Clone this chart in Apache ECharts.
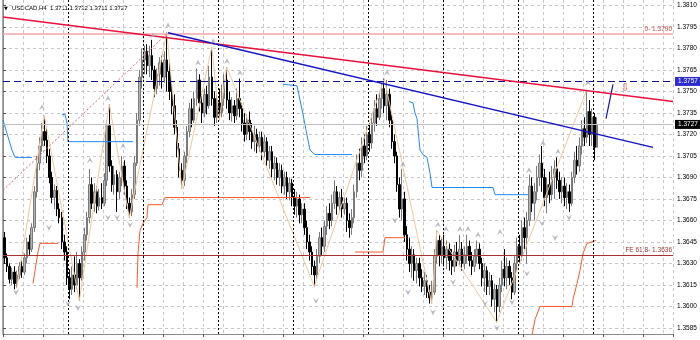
<!DOCTYPE html>
<html><head><meta charset="utf-8">
<script src="https://cdn.jsdelivr.net/npm/echarts@6/dist/echarts.min.js"></script>
<style>html,body{margin:0;padding:0;background:#fff}#c{width:700px;height:340px}</style>
</head><body><div id="c"></div>
<script>
// ---- data ----
const symbolName = 'USDCAD,H4';
const lastOHLC = ['1.3711', '1.3732', '1.3711', '1.3727'];
const slotCount = 268;
const categories = Array.from({length: slotCount}, (_, i) => String(i));
// [open, close, low, high]
const candles = [
[1.3648,1.3634,1.3630,1.3652],[1.3634,1.3628,1.3624,1.3637],[1.3628,1.3619,1.3616,1.3630],[1.3619,1.3624,1.3615,1.3627],
[1.3624,1.3616,1.3612,1.3628],[1.3616,1.3622,1.3613,1.3625],[1.3622,1.3628,1.3619,1.3631],[1.3628,1.3624,1.3620,1.3632],
[1.3624,1.3634,1.3622,1.3637],[1.3634,1.3645,1.3630,1.3648],[1.3645,1.3640,1.3636,1.3650],[1.3640,1.3655,1.3638,1.3658],
[1.3655,1.3680,1.3652,1.3684],[1.3680,1.3700,1.3676,1.3705],[1.3700,1.3712,1.3695,1.3718],[1.3712,1.3722,1.3708,1.3728],
[1.3722,1.3716,1.3712,1.3733],[1.3716,1.3705,1.3700,1.3724],[1.3705,1.3690,1.3686,1.3710],[1.3690,1.3676,1.3672,1.3694],
[1.3676,1.3681,1.3668,1.3685],[1.3681,1.3668,1.3663,1.3684],[1.3668,1.3662,1.3658,1.3672],[1.3662,1.3645,1.3640,1.3666],
[1.3645,1.3638,1.3632,1.3650],[1.3638,1.3620,1.3615,1.3642],[1.3620,1.3612,1.3605,1.3626],[1.3612,1.3622,1.3608,1.3628],
[1.3622,1.3615,1.3610,1.3635],[1.3615,1.3630,1.3612,1.3638],[1.3630,1.3620,1.3604,1.3633],[1.3620,1.3638,1.3618,1.3642],
[1.3638,1.3650,1.3632,1.3655],[1.3650,1.3662,1.3646,1.3666],[1.3662,1.3685,1.3658,1.3696],[1.3685,1.3672,1.3668,1.3690],
[1.3672,1.3680,1.3666,1.3686],[1.3680,1.3670,1.3665,1.3684],[1.3670,1.3676,1.3667,1.3682],[1.3676,1.3672,1.3668,1.3686],
[1.3672,1.3688,1.3670,1.3693],[1.3688,1.3726,1.3684,1.3730],[1.3726,1.3698,1.3694,1.3741],[1.3698,1.3685,1.3680,1.3702],
[1.3685,1.3692,1.3678,1.3698],[1.3692,1.3680,1.3666,1.3695],[1.3680,1.3690,1.3675,1.3694],[1.3690,1.3698,1.3684,1.3705],
[1.3698,1.3684,1.3678,1.3702],[1.3684,1.3672,1.3668,1.3688],[1.3672,1.3666,1.3662,1.3676],[1.3666,1.3678,1.3663,1.3682],
[1.3678,1.3700,1.3675,1.3705],[1.3700,1.3730,1.3698,1.3735],[1.3730,1.3760,1.3726,1.3765],[1.3760,1.3772,1.3752,1.3780],
[1.3772,1.3778,1.3762,1.3782],[1.3778,1.3768,1.3762,1.3783],[1.3768,1.3775,1.3760,1.3782],[1.3775,1.3765,1.3758,1.3786],
[1.3765,1.3752,1.3746,1.3768],[1.3752,1.3762,1.3748,1.3766],[1.3762,1.3770,1.3754,1.3774],[1.3770,1.3760,1.3752,1.3775],
[1.3760,1.3772,1.3756,1.3778],[1.3772,1.3764,1.3750,1.3791],[1.3764,1.3750,1.3744,1.3770],[1.3750,1.3740,1.3734,1.3756],
[1.3740,1.3725,1.3720,1.3748],[1.3725,1.3710,1.3704,1.3730],[1.3710,1.3695,1.3690,1.3714],[1.3695,1.3688,1.3682,1.3700],
[1.3688,1.3705,1.3684,1.3708],[1.3705,1.3722,1.3700,1.3726],[1.3722,1.3738,1.3718,1.3742],[1.3738,1.3730,1.3725,1.3745],
[1.3730,1.3745,1.3728,1.3750],[1.3745,1.3758,1.3740,1.3766],[1.3758,1.3742,1.3736,1.3762],[1.3742,1.3735,1.3728,1.3748],
[1.3735,1.3748,1.3732,1.3752],[1.3748,1.3740,1.3734,1.3754],[1.3740,1.3760,1.3738,1.3768],[1.3760,1.3745,1.3740,1.3781],
[1.3745,1.3732,1.3726,1.3750],[1.3732,1.3742,1.3728,1.3748],[1.3742,1.3735,1.3730,1.3752],[1.3735,1.3745,1.3732,1.3755],
[1.3745,1.3758,1.3740,1.3762],[1.3758,1.3744,1.3738,1.3767],[1.3744,1.3735,1.3730,1.3750],[1.3735,1.3740,1.3729,1.3746],
[1.3740,1.3733,1.3728,1.3744],[1.3733,1.3745,1.3730,1.3752],[1.3745,1.3738,1.3732,1.3759],[1.3738,1.3728,1.3722,1.3742],
[1.3728,1.3720,1.3715,1.3735],[1.3720,1.3730,1.3716,1.3734],[1.3730,1.3722,1.3716,1.3736],[1.3722,1.3715,1.3710,1.3728],
[1.3715,1.3720,1.3708,1.3726],[1.3720,1.3712,1.3707,1.3724],[1.3712,1.3718,1.3708,1.3722],[1.3718,1.3708,1.3702,1.3722],
[1.3708,1.3715,1.3704,1.3720],[1.3715,1.3702,1.3698,1.3718],[1.3702,1.3708,1.3696,1.3712],[1.3708,1.3696,1.3690,1.3712],
[1.3696,1.3700,1.3688,1.3705],[1.3700,1.3690,1.3685,1.3704],[1.3690,1.3695,1.3684,1.3700],[1.3695,1.3684,1.3679,1.3699],
[1.3684,1.3690,1.3678,1.3694],[1.3690,1.3680,1.3675,1.3694],[1.3680,1.3686,1.3674,1.3690],[1.3686,1.3676,1.3670,1.3689],
[1.3676,1.3670,1.3664,1.3682],[1.3670,1.3675,1.3662,1.3680],[1.3675,1.3664,1.3658,1.3678],[1.3664,1.3668,1.3658,1.3672],
[1.3668,1.3655,1.3650,1.3672],[1.3655,1.3645,1.3640,1.3660],[1.3645,1.3638,1.3632,1.3650],[1.3638,1.3628,1.3622,1.3642],
[1.3628,1.3622,1.3614,1.3632],[1.3622,1.3635,1.3618,1.3640],[1.3635,1.3648,1.3630,1.3652],[1.3648,1.3642,1.3636,1.3655],
[1.3642,1.3656,1.3638,1.3660],[1.3656,1.3665,1.3650,1.3670],[1.3665,1.3660,1.3654,1.3672],[1.3660,1.3672,1.3656,1.3678],
[1.3672,1.3680,1.3668,1.3688],[1.3680,1.3670,1.3664,1.3684],[1.3670,1.3676,1.3666,1.3680],[1.3676,1.3668,1.3662,1.3682],
[1.3668,1.3672,1.3664,1.3676],[1.3672,1.3660,1.3652,1.3676],[1.3660,1.3655,1.3648,1.3665],[1.3655,1.3662,1.3650,1.3668],
[1.3662,1.3680,1.3658,1.3685],[1.3680,1.3700,1.3676,1.3706],[1.3700,1.3695,1.3688,1.3710],[1.3695,1.3712,1.3690,1.3718],
[1.3712,1.3705,1.3700,1.3720],[1.3705,1.3720,1.3702,1.3726],[1.3720,1.3714,1.3708,1.3728],[1.3714,1.3728,1.3710,1.3734],
[1.3728,1.3738,1.3722,1.3744],[1.3738,1.3732,1.3726,1.3748],[1.3732,1.3745,1.3730,1.3750],[1.3745,1.3752,1.3738,1.3756],
[1.3752,1.3740,1.3735,1.3759],[1.3740,1.3748,1.3730,1.3758],[1.3748,1.3730,1.3725,1.3752],[1.3730,1.3715,1.3710,1.3734],
[1.3715,1.3705,1.3700,1.3720],[1.3705,1.3685,1.3680,1.3708],[1.3685,1.3668,1.3662,1.3690],[1.3668,1.3675,1.3660,1.3696],
[1.3675,1.3650,1.3645,1.3680],[1.3650,1.3640,1.3632,1.3656],[1.3640,1.3630,1.3624,1.3648],[1.3630,1.3636,1.3620,1.3642],
[1.3636,1.3625,1.3618,1.3640],[1.3625,1.3630,1.3616,1.3634],[1.3630,1.3620,1.3614,1.3634],[1.3620,1.3614,1.3610,1.3626],
[1.3614,1.3618,1.3608,1.3624],[1.3618,1.3610,1.3606,1.3622],[1.3610,1.3606,1.3602,1.3615],[1.3606,1.3610,1.3602,1.3618],
[1.3610,1.3635,1.3608,1.3640],[1.3635,1.3646,1.3630,1.3653],[1.3646,1.3636,1.3628,1.3650],[1.3636,1.3642,1.3630,1.3648],
[1.3642,1.3634,1.3628,1.3650],[1.3634,1.3640,1.3626,1.3646],[1.3640,1.3632,1.3625,1.3644],[1.3632,1.3628,1.3622,1.3640],
[1.3628,1.3638,1.3624,1.3643],[1.3638,1.3632,1.3628,1.3645],[1.3632,1.3640,1.3628,1.3650],[1.3640,1.3630,1.3625,1.3645],
[1.3630,1.3636,1.3626,1.3642],[1.3636,1.3642,1.3630,1.3650],[1.3642,1.3632,1.3628,1.3646],[1.3632,1.3628,1.3622,1.3638],
[1.3628,1.3635,1.3624,1.3640],[1.3635,1.3640,1.3630,1.3646],[1.3640,1.3630,1.3626,1.3644],[1.3630,1.3620,1.3614,1.3634],
[1.3620,1.3625,1.3610,1.3630],[1.3625,1.3614,1.3608,1.3628],[1.3614,1.3618,1.3608,1.3624],[1.3618,1.3605,1.3600,1.3622],
[1.3605,1.3612,1.3596,1.3616],[1.3612,1.3600,1.3589,1.3615],[1.3600,1.3615,1.3596,1.3620],[1.3615,1.3626,1.3610,1.3632],
[1.3626,1.3620,1.3614,1.3640],[1.3620,1.3628,1.3612,1.3634],[1.3628,1.3620,1.3615,1.3632],[1.3620,1.3610,1.3605,1.3624],
[1.3610,1.3630,1.3608,1.3636],[1.3630,1.3642,1.3625,1.3648],[1.3642,1.3636,1.3630,1.3650],[1.3636,1.3655,1.3632,1.3660],
[1.3655,1.3648,1.3640,1.3662],[1.3648,1.3660,1.3630,1.3666],[1.3660,1.3684,1.3656,1.3692],[1.3684,1.3672,1.3666,1.3690],
[1.3672,1.3680,1.3660,1.3686],[1.3680,1.3690,1.3674,1.3698],[1.3690,1.3700,1.3684,1.3706],[1.3700,1.3690,1.3680,1.3712],
[1.3690,1.3676,1.3670,1.3696],[1.3676,1.3685,1.3665,1.3690],[1.3685,1.3678,1.3672,1.3694],[1.3678,1.3690,1.3674,1.3698],
[1.3690,1.3696,1.3675,1.3702],[1.3696,1.3688,1.3682,1.3704],[1.3688,1.3680,1.3675,1.3694],[1.3680,1.3684,1.3672,1.3690],
[1.3684,1.3676,1.3670,1.3690],[1.3676,1.3680,1.3668,1.3686],[1.3680,1.3672,1.3666,1.3685],[1.3672,1.3690,1.3670,1.3694],
[1.3690,1.3702,1.3686,1.3708],[1.3702,1.3698,1.3692,1.3712],[1.3698,1.3712,1.3694,1.3718],[1.3712,1.3724,1.3706,1.3730],
[1.3724,1.3718,1.3712,1.3732],[1.3718,1.3736,1.3714,1.3751],[1.3736,1.3720,1.3712,1.3744],[1.3720,1.3732,1.3712,1.3738],
[1.3732,1.3711,1.3702,1.3735],[1.3711,1.3727,1.3711,1.3732]
];
const priceTicks = [1.3585,1.3600,1.3615,1.3630,1.3645,1.3660,1.3675,1.3690,1.3705,1.3720,1.3735,1.3750,1.3765,1.3780,1.3795,1.3810];
const yMin = 1.35808, yMax = 1.38138;
// overlay objects: [bar position, price]
const redTrend = [[0, 1.3802], [268, 1.3743]];
const blueTrend = [[66, 1.3791], [260, 1.3711]];
const feDotted = [[0, 1.3681], [66, 1.3791]];
const blueArrowLine = [[241.2, 1.3731], [244, 1.3755]];
const downArrowMark = [[248.8, 1.3752]];
const zigzag = [[5.5,1.3613],[16.5,1.3733],[30.5,1.3604],[42.5,1.3741],[50.5,1.3662],[65.5,1.3791],[71.5,1.3682],
  [83.5,1.3781],[86.5,1.3730],[89.5,1.3767],[124.5,1.3614],[152.5,1.3759],[171.5,1.3602],[173.5,1.3653],[197.5,1.3589],[233.5,1.3751]];
const blueSteps = [
  [[0,1.3730],[3.6,1.3709],[4.8,1.3704],[11.6,1.3704]],
  [[23.6,1.3734],[24.8,1.3734],[25.6,1.3728],[26,1.3715],[52,1.3715]],
  [[112,1.3755],[117.6,1.3754],[118.8,1.3744],[120,1.3734],[121.2,1.3723],[122.8,1.3709],[124.8,1.3706],[139.6,1.3706]],
  [[162.4,1.3743],[164,1.3742],[164.8,1.3735],[165.6,1.3731],[166.8,1.3709],[168,1.3706],[169.6,1.3704],[170.8,1.3693],[171.6,1.3683],[196,1.3683],[196.8,1.3678],[210,1.3678]]
];
const orangeSteps = [
  [[12,1.3616],[12.8,1.3625],[14,1.3638],[14.8,1.3644],[22,1.3644]],
  [[53.6,1.3613],[54,1.3637],[54.8,1.3653],[56,1.3658],[57.6,1.3662],[58,1.3671],[63.6,1.3671],[64.8,1.3676],[122.8,1.3676]],
  [[140.8,1.3638],[152,1.3638],[152.8,1.3648],[160.8,1.3648]],
  [[211.6,1.3580],[212.8,1.3591],[214.8,1.3600],[227.6,1.3600],[228,1.3605],[229.6,1.3616],[230.8,1.3625],[232,1.3637],[233.6,1.3644],[237.2,1.3646]]
];
const fractalUp = [[15.6,1.3739],[34.8,1.3702],[42,1.3745],[48,1.3712],[60,1.3789],[66,1.3796],[78,1.3770],[84,1.3785],[89.6,1.3771],
  [94.8,1.3763],[153.6,1.3763],[160,1.3699],[174,1.3657],[177.2,1.3654],[182.8,1.3654],[186,1.3654],[190,1.3650],[198.8,1.3652],
  [210.4,1.3695],[216,1.3714],[222,1.3708],[234,1.3756]];
const fractalDown = [[5.2,1.3610],[18.4,1.3655],[26,1.3602],[30,1.3599],[42,1.3662],[45.6,1.3662],[50.8,1.3657],[125.2,1.3604],
  [156.8,1.3660],[162,1.3610],[172,1.3596],[180,1.3617],[192.8,1.3602],[197.6,1.3585],[203.6,1.3603],[209.6,1.3623],[215.6,1.3658],
  [220.8,1.3648],[226.4,1.3662]];
const periodSeparators = [26, 56, 86, 116, 146, 176, 206, 236];
const levelFE0 = 1.3790, levelFE618 = 1.3636, pendingLevel = 1.3757, bidLevel = 1.3727;

// ---- chart ----
const FONT = 'Liberation Sans';
const chart = echarts.init(document.getElementById('c'));
const lineSeries = (data, color, extra) => Object.assign({
  type: 'line', xAxisIndex: 1, yAxisIndex: 0, data, symbol: 'none', silent: true, animation: false,
  lineStyle: {color, width: 1}, z: 5
}, extra || {});
const series = [];
series.push({
  type: 'candlestick', xAxisIndex: 0, yAxisIndex: 0, data: candles, barWidth: 2, animation: false, z: 3,
  itemStyle: {color: '#b4b4b4', borderColor: '#7a7a7a', color0: '#000', borderColor0: '#000', borderWidth: 1}
});
series.push(lineSeries(redTrend, '#e8103c', {lineStyle: {color: '#e8103c', width: 1.5}, z: 6,
  markLine: {
    silent: true, symbol: 'none', animation: false, precision: 6,
    data: [
      ...periodSeparators.map(v => ({xAxis: v, lineStyle: {color: '#000', type: [2, 2], width: 1}, label: {show: false}})),
      {yAxis: levelFE0, lineStyle: {color: '#f0a8a8', type: 'solid', width: 1.5},
        label: {show: true, position: 'insideEndTop', formatter: '0- ' + levelFE0.toFixed(4), color: '#d04848', fontSize: 6.5, fontFamily: FONT, distance: 1}},
      {yAxis: levelFE618, lineStyle: {color: '#a83232', type: 'solid', width: 1},
        label: {show: true, position: 'insideEndTop', formatter: 'FE 61.8- ' + levelFE618.toFixed(4), color: '#a83232', fontSize: 6.5, fontFamily: FONT, distance: 1}},
      {yAxis: bidLevel, lineStyle: {color: '#c0c0c0', type: 'solid', width: 1},
        label: {show: true, position: 'end', formatter: bidLevel.toFixed(4), color: '#fff', backgroundColor: '#000', padding: [1, 3, 1, 3], fontSize: 6.5, fontFamily: FONT, distance: 2}},
      {yAxis: pendingLevel, lineStyle: {color: '#10108c', type: [7, 4], width: 1},
        label: {show: true, position: 'end', formatter: pendingLevel.toFixed(4), color: '#fff', backgroundColor: '#2c2cd0', padding: [1, 3, 1, 3], fontSize: 6.5, fontFamily: FONT, distance: 2}}
    ]
  }}));
series.push(lineSeries(blueTrend, '#1414c8', {lineStyle: {color: '#1414c8', width: 1.5}, z: 6}));
series.push(lineSeries(feDotted, '#f06060', {lineStyle: {color: '#f06060', width: 1, type: [2, 2]}}));
series.push(lineSeries(blueArrowLine, '#1414c8', {lineStyle: {color: '#1414c8', width: 1.2}}));
series.push(lineSeries(zigzag, '#f2c89c', {lineStyle: {color: '#f2c89c', width: 1}, z: 4}));
blueSteps.forEach(s => series.push(lineSeries(s, '#1e8cff', {z: 4})));
orangeSteps.forEach(s => series.push(lineSeries(s, '#ff5a28', {z: 4})));
const arrowPath = 'path://M0,10 L5,0 L10,10 L5,6 Z';
series.push({type: 'scatter', xAxisIndex: 1, yAxisIndex: 0, data: fractalUp, symbol: arrowPath, symbolSize: [6, 6],
  itemStyle: {color: '#a4aab8'}, silent: true, animation: false, z: 7});
series.push({type: 'scatter', xAxisIndex: 1, yAxisIndex: 0, data: fractalDown, symbol: arrowPath, symbolSize: [6, 6], symbolRotate: 180,
  itemStyle: {color: '#a4aab8'}, silent: true, animation: false, z: 7});
series.push({type: 'scatter', xAxisIndex: 1, yAxisIndex: 0, data: downArrowMark, symbolSize: 1, itemStyle: {color: 'rgba(0,0,0,0)'},
  label: {show: true, position: 'inside', formatter: '⇩', color: '#e03030', fontSize: 11, fontFamily: 'DejaVu Sans'}, silent: true, animation: false, z: 8});

chart.setOption({
  animation: false,
  backgroundColor: '#fff',
  grid: {left: 3, right: 27, top: 0, bottom: 6, containLabel: false},
  xAxis: [
    {type: 'category', data: categories, boundaryGap: true, position: 'bottom',
      axisLine: {show: true, lineStyle: {color: '#8c8c8c', width: 1}},
      axisTick: {show: true, interval: 15, length: 3, lineStyle: {color: '#505050'}},
      axisLabel: {show: false}, splitLine: {show: false}},
    {type: 'value', min: 0, max: slotCount, interval: 8, position: 'top', show: true,
      axisLine: {show: false}, axisTick: {show: false}, axisLabel: {show: false},
      splitLine: {show: true, lineStyle: {color: '#c8c8c8', type: [3, 3], width: 1}}}
  ],
  yAxis: [
    {type: 'value', position: 'right', min: yMin, max: yMax, scale: true,
      axisLine: {show: true, lineStyle: {color: '#8c8c8c', width: 1}},
      axisTick: {show: true, length: 3, customValues: priceTicks, lineStyle: {color: '#505050'}},
      axisLabel: {show: true, customValues: priceTicks, formatter: v => v.toFixed(4), color: '#000', fontSize: 6.5, fontFamily: FONT, margin: 4},
      splitLine: {show: true, lineStyle: {color: '#c8c8c8', type: [3, 3], width: 1}}},
    {type: 'value', position: 'left', min: yMin, max: yMax, scale: true,
      axisLine: {show: true, lineStyle: {color: '#8c8c8c', width: 1.5}},
      axisTick: {show: false}, axisLabel: {show: false}, splitLine: {show: false}}
  ],
  graphic: [
    {type: 'text', left: 4, top: 6, style: {text: '▼', fontSize: 5, fill: '#000', fontFamily: 'DejaVu Sans'}},
    {type: 'text', left: 12, top: 5, style: {text: symbolName + '  ' + lastOHLC.join(' '), fontSize: 6, fill: '#000', fontFamily: FONT}}
  ],
  series
});
</script>
</body></html>
